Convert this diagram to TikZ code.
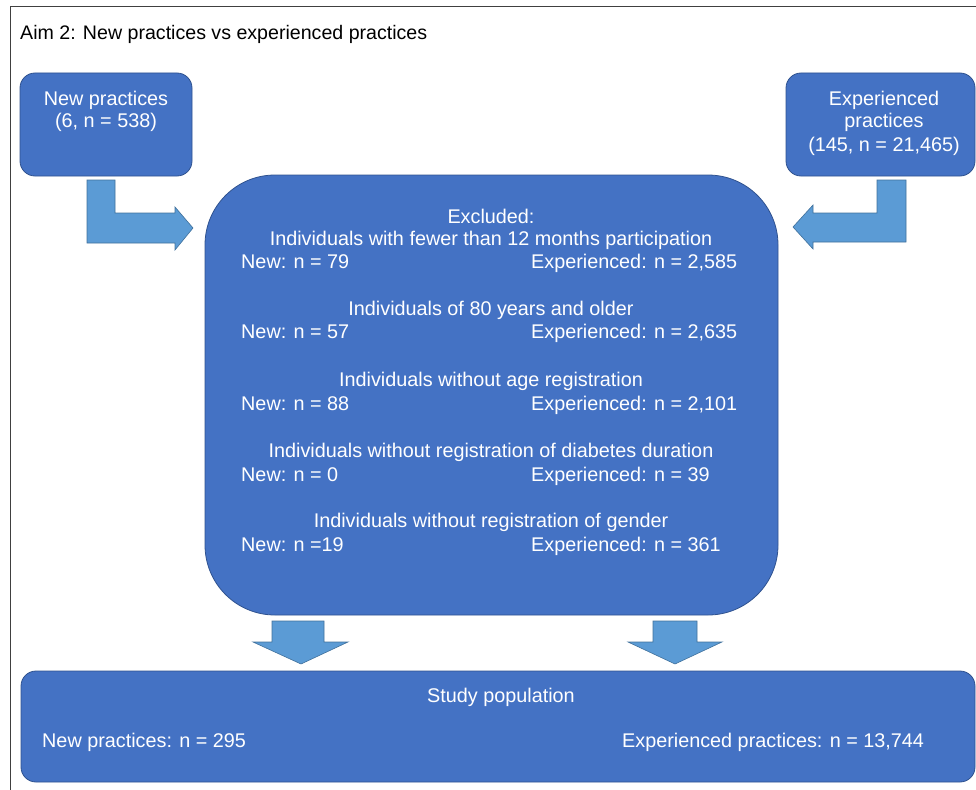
\documentclass[tikz,border=0pt]{standalone}
\usepackage{fontspec}
\setmainfont{Liberation Sans}
\definecolor{boxblue}{HTML}{4472C4}
\definecolor{boxedge}{HTML}{2F528F}
\definecolor{arrblue}{HTML}{5B9BD5}
\definecolor{arredge}{HTML}{41719C}
\definecolor{framegray}{HTML}{404040}
\begin{document}
\begin{tikzpicture}[x=1pt,y=-1pt,
  box/.style={draw=boxedge,line width=0.8pt,fill=boxblue,rectangle,rounded corners=15pt,inner sep=0pt},
  blockarrow/.style={draw=arredge,line width=0.6pt,fill=arrblue},
  wt/.style={text=white,inner sep=0pt,font=\fontsize{19.8}{23}\selectfont},
  ttl/.style={text=black,inner sep=0pt,font=\fontsize{19.6}{23}\selectfont}]
\useasboundingbox (0,0) rectangle (976,789);
% frame
\draw[framegray,line width=1pt] (10,800) -- (10,7) -- (990,7);
\node[ttl,anchor=base west] (title) at (20,40) {Aim 2: New practices vs experienced practices};
% boxes
\node[box,minimum width=172pt,minimum height=103pt] (newbox) at (106,124.5) {};
\node[box,minimum width=189pt,minimum height=103pt] (expbox) at (880.5,124.5) {};
\node[box,rounded corners=70pt,minimum width=573pt,minimum height=440pt] (excl) at (491.5,395) {};
\node[box,minimum width=954pt,minimum height=111pt] (study) at (498,726.5) {};
% block arrows
\draw[blockarrow] (87,180) -- (115,180) -- (115,213) -- (175,213) -- (175,207) -- (193,228) -- (175,250) -- (175,243) -- (87,243) -- cycle;
\draw[blockarrow] (906,180) -- (877,180) -- (877,213) -- (813,213) -- (813,205) -- (793,227) -- (813,249) -- (813,242) -- (906,242) -- cycle;
\draw[blockarrow] (272,621) -- (324,621) -- (324,642) -- (348,642) -- (301,664) -- (253,642) -- (272,642) -- cycle;
\draw[blockarrow] (653,621) -- (697,621) -- (697,642) -- (722,642) -- (675,664) -- (628,642) -- (653,642) -- cycle;
% texts of the small boxes
\node[wt,anchor=base] (n1) at (106,106) {New practices};
\node[wt,anchor=base] (n2) at (106,128) {(6, n = 538)};
\node[wt,anchor=base] (e1) at (884,106) {Experienced};
\node[wt,anchor=base] (e2) at (884,128) {practices};
\node[wt,anchor=base] (e3) at (884,151) {(145, n = 21,465)};
% excluded box texts
\node[wt,anchor=base] (x0) at (491,223) {Excluded:};
\node[wt,anchor=base] (h1) at (491,245) {Individuals with fewer than 12 months participation};
\node[wt,anchor=base west] (a1) at (241,268) {New: n = 79};
\node[wt,anchor=base west] (b1) at (531,268) {Experienced: n = 2,585};
\node[wt,anchor=base] (h2) at (491,315) {Individuals of 80 years and older};
\node[wt,anchor=base west] (a2) at (241,338) {New: n = 57};
\node[wt,anchor=base west] (b2) at (531,338) {Experienced: n = 2,635};
\node[wt,anchor=base] (h3) at (491,386) {Individuals without age registration};
\node[wt,anchor=base west] (a3) at (241,410) {New: n = 88};
\node[wt,anchor=base west] (b3) at (531,410) {Experienced: n = 2,101};
\node[wt,anchor=base] (h4) at (491,457) {Individuals without registration of diabetes duration};
\node[wt,anchor=base west] (a4) at (241,481) {New: n = 0};
\node[wt,anchor=base west] (b4) at (531,481) {Experienced: n = 39};
\node[wt,anchor=base] (h5) at (491,527) {Individuals without registration of gender};
\node[wt,anchor=base west] (a5) at (241,551) {New: n =19};
\node[wt,anchor=base west] (b5) at (531,551) {Experienced: n = 361};
% study population
\node[wt,anchor=base] (s0) at (501,702) {Study population};
\node[wt,anchor=base west] (s1) at (42,747) {New practices: n = 295};
\node[wt,anchor=base west] (s2) at (622,747) {Experienced practices: n = 13,744};
\end{tikzpicture}
\end{document}
